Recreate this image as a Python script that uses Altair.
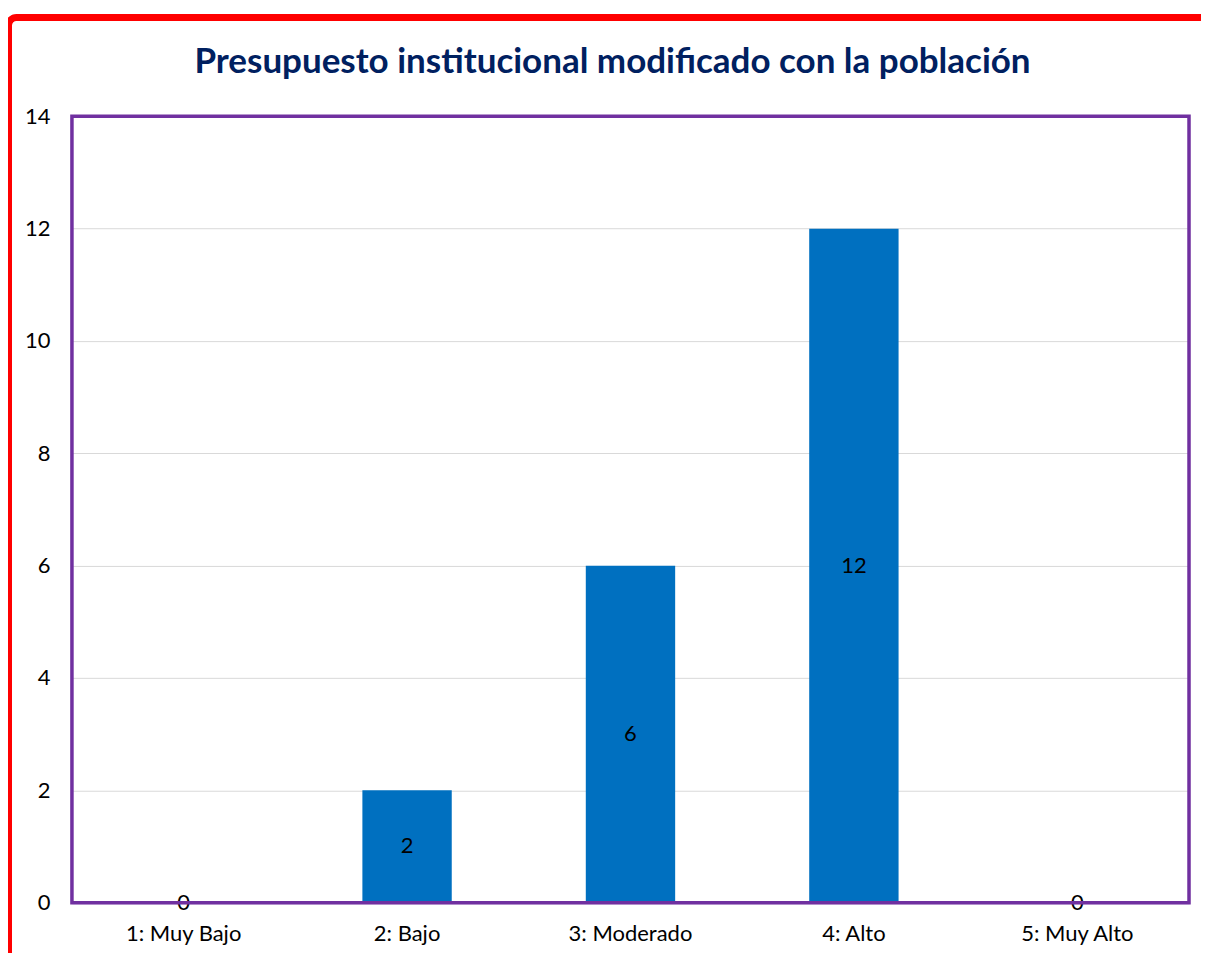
import altair as alt
import pandas as pd

categories = ["1: Muy Bajo", "2: Bajo", "3: Moderado", "4: Alto", "5: Muy Alto"]
values = [0, 2, 6, 12, 0]
y_ticks = [0, 2, 4, 6, 8, 10, 12, 14]
title_text = "Presupuesto institucional modificado con la población"

df = pd.DataFrame({"cat": categories, "val": values})

FONT = "Lato"
W, H = 1118, 787

x_enc = alt.X("cat:N", sort=categories, title=None,
              scale=alt.Scale(paddingInner=0.6, paddingOuter=0.3),
              axis=alt.Axis(labelAngle=0, labelFont=FONT, labelFontSize=22,
                            labelColor="#000000", labelPadding=21, ticks=False,
                            domain=True, domainColor="#C9B3E0", domainWidth=2))
y_enc = alt.Y("val:Q", title=None,
              scale=alt.Scale(domain=[0, 14], nice=False),
              axis=alt.Axis(values=y_ticks, format="d", labelFont=FONT, labelFontSize=22,
                            labelColor="#000000", labelPadding=22, ticks=False,
                            domain=False, grid=True, gridColor="#D9D9D9",
                            gridWidth=1))

base = alt.Chart(df)

bars = base.mark_bar(color="#0070C0").encode(x=x_enc, y=y_enc)

labels = base.transform_calculate(mid="datum.val / 2").mark_text(
    font=FONT, fontSize=22, color="#000000", baseline="middle", align="center"
).encode(x=alt.X("cat:N", sort=categories), y=alt.Y("mid:Q"), text=alt.Text("val:Q"))

frame = alt.Chart(pd.DataFrame({"a": [0]})).mark_rect(
    fill=None, stroke="#FF0000", strokeWidth=7, cornerRadius=8, clip=False
).encode(x=alt.value(-63.5), x2=alt.value(1400), y=alt.value(-99), y2=alt.value(1100))

border = alt.Chart(pd.DataFrame({"a": [0]})).mark_rect(
    fill=None, stroke="#7030A0", strokeWidth=3.5, clip=False
).encode(x=alt.value(0), x2=alt.value(W), y=alt.value(0), y2=alt.value(H))

title = alt.Chart(pd.DataFrame({"t": [title_text]})).mark_text(
    font=FONT, fontSize=35, fontWeight="bold", color="#002060",
    align="center", baseline="middle", clip=False
).encode(x=alt.value(W / 2 - 18), y=alt.value(-54), text="t:N")

chart = alt.layer(bars, labels, border, frame, title).properties(
    width=W, height=H,
    autosize=alt.AutoSizeParams(type="none"),
    padding={"left": 64, "top": 108, "right": 12, "bottom": 50},
).configure(background="#FFFFFF").configure_view(stroke=None)

chart.save("out.html", embed_options={"renderer": "svg", "actions": False})
